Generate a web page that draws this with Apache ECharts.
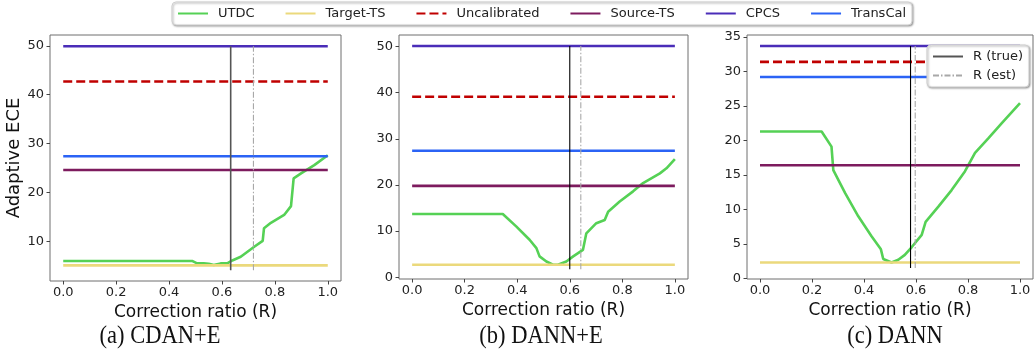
<!DOCTYPE html>
<html>
<head>
<meta charset="utf-8">
<script src="https://cdn.jsdelivr.net/npm/echarts@6/dist/echarts.min.js"></script>
<style>
html,body{margin:0;padding:0;background:#fff;}
#chart{width:1034px;height:352px;}
</style>
</head>
<body>
<div id="chart"></div>
<script>
// ---------------- data ----------------
const seriesNames = ['UTDC', 'Target-TS', 'Uncalibrated', 'Source-TS', 'CPCS', 'TransCal'];
const panelCaptions = ['(a) CDAN+E', '(b) DANN+E', '(c) DANN'];
const xTicks = [0.0, 0.2, 0.4, 0.6, 0.8, 1.0];
const yTicksA = [10, 20, 30, 40, 50];
const yTicksB = [0, 10, 20, 30, 40, 50];
const yTicksC = [0, 5, 10, 15, 20, 25, 30, 35];

// flat baselines per panel [a, b, c]
const targetTS     = [5.1, 2.7, 2.3];
const uncalibrated = [42.7, 39.1, 31.4];
const sourceTS     = [24.6, 19.8, 16.4];
const cpcs         = [49.9, 50.1, 33.7];
const transCal     = [27.4, 27.4, 29.2];

// correction ratio markers per panel
const rTrue = [0.633, 0.600, 0.579];
const rEst  = [0.719, 0.642, 0.597];
const vlineLow  = [4.1, 1.7, 1.5];
const vlineHigh = [49.9, 50.1, 33.7];

// UTDC curves [R, ECE]
const utdcA = [[0.0,6.0],[0.487,6.0],[0.506,5.5],[0.531,5.5],[0.55,5.4],[0.569,5.15],[0.595,5.5],[0.62,5.5],[0.639,6.1],[0.671,6.85],[0.722,8.9],[0.754,10.1],[0.759,12.7],[0.785,13.8],[0.835,15.4],[0.861,17.2],[0.871,22.9],[0.899,23.9],[0.949,25.6],[1.0,27.6]];
const utdcB = [[0.0,13.7],[0.345,13.7],[0.396,11.0],[0.447,8.1],[0.473,6.3],[0.485,4.5],[0.511,3.4],[0.536,2.7],[0.555,2.7],[0.587,3.4],[0.613,4.5],[0.65,5.9],[0.663,9.5],[0.701,11.7],[0.733,12.4],[0.746,14.2],[0.79,16.4],[0.841,18.6],[0.879,20.4],[0.943,22.5],[0.968,23.6],[1.0,25.6]];
const utdcC = [[0.0,21.3],[0.237,21.3],[0.275,19.1],[0.282,15.7],[0.327,12.4],[0.378,9.0],[0.429,6.1],[0.465,4.2],[0.474,2.8],[0.506,2.3],[0.532,2.7],[0.557,3.4],[0.583,4.5],[0.622,6.3],[0.637,8.2],[0.686,10.4],[0.737,12.8],[0.788,15.5],[0.827,18.2],[0.878,20.3],[0.93,22.5],[1.0,25.4]];
const utdcAll = [utdcA, utdcB, utdcC];

// ---------------- layout/style ----------------
const FONT = 'DejaVu Sans';
const colors = {
  'UTDC': '#55d155',
  'Target-TS': '#ebd97c',
  'Uncalibrated': '#c00000',
  'Source-TS': '#7d1b5e',
  'CPCS': '#4a2db8',
  'TransCal': '#2b63f5'
};
const grids = [
  {left: 50, top: 35, width: 291, height: 246},
  {left: 399, top: 35, width: 289, height: 244},
  {left: 747, top: 35, width: 286, height: 244}
];
const yRanges = [[1.9, 52.2], [-0.4, 52.5], [-0.1, 35.3]];
const yTickSets = [yTicksA, yTicksB, yTicksC];
const captionCenters = [160, 541, 895];

const legendCommon = {
  itemWidth: 30, itemHeight: 14,
  padding: [5, 6, 5, 5],
  borderColor: '#cfcfcf', borderWidth: 1, borderRadius: 4,
  backgroundColor: '#fff',
  shadowBlur: 2, shadowColor: 'rgba(0,0,0,0.35)', shadowOffsetX: 1, shadowOffsetY: 1,
  itemStyle: {opacity: 0},
  textStyle: {fontSize: 13, color: '#222', fontFamily: FONT, padding: [0, 0, 0, 5]},
  selectedMode: false,
  z: 50
};

const option = {
  animation: false,
  backgroundColor: '#fff',
  textStyle: {fontFamily: FONT},
  grid: grids.map(g => Object.assign({show: true, borderColor: '#6e6e6e', borderWidth: 1, backgroundColor: 'transparent'}, g)),
  xAxis: grids.map((g, i) => ({
    type: 'value', gridIndex: i, min: -0.05, max: 1.05,
    name: 'Correction ratio (R)', nameLocation: 'middle', nameGap: 20,
    nameTextStyle: {fontSize: 17, color: '#111', fontFamily: FONT, verticalAlign: 'top'},
    axisLine: {show: false, onZero: false},
    splitLine: {show: false},
    axisTick: {show: true, length: 3.5, customValues: xTicks, lineStyle: {color: '#444'}},
    axisLabel: {customValues: xTicks, formatter: v => v.toFixed(1), fontSize: 13, color: '#222', margin: 5, fontFamily: FONT}
  })),
  yAxis: grids.map((g, i) => ({
    type: 'value', gridIndex: i, min: yRanges[i][0], max: yRanges[i][1],
    name: i === 0 ? 'Adaptive ECE' : '', nameLocation: 'middle', nameGap: 18,
    nameTextStyle: {fontSize: 18, color: '#111', fontFamily: FONT},
    axisLine: {show: false, onZero: false},
    splitLine: {show: false},
    axisTick: {show: true, length: 3.5, customValues: yTickSets[i], lineStyle: {color: '#444'}},
    axisLabel: {customValues: yTickSets[i], fontSize: 13, color: '#222', margin: 6, fontFamily: FONT}
  })),
  legend: [
    Object.assign({}, legendCommon, {
      data: seriesNames,
      left: 172, top: 2,
      itemGap: 30
    }),
    Object.assign({}, legendCommon, {
      data: ['R (true)', 'R (est)'],
      orient: 'vertical',
      left: 927, top: 45,
      itemGap: 6
    })
  ],
  graphic: panelCaptions.map((t, i) => ({
    type: 'text', x: captionCenters[i], y: 336, scaleX: 0.9,
    style: {text: t, font: '25px "Liberation Serif"', fill: '#111', textAlign: 'center', textVerticalAlign: 'middle'}
  })),
  series: []
};

const flatSets = {'Target-TS': targetTS, 'Uncalibrated': uncalibrated, 'Source-TS': sourceTS, 'CPCS': cpcs, 'TransCal': transCal};

for (let i = 0; i < 3; i++) {
  option.series.push({
    name: 'UTDC', type: 'line', xAxisIndex: i, yAxisIndex: i,
    data: utdcAll[i], symbol: 'none', color: colors['UTDC'],
    lineStyle: {width: 2.6, color: colors['UTDC']}, z: 2
  });
  ['Target-TS', 'Uncalibrated', 'Source-TS', 'CPCS', 'TransCal'].forEach((n, k) => {
    const v = flatSets[n][i];
    option.series.push({
      name: n, type: 'line', xAxisIndex: i, yAxisIndex: i,
      data: [[0, v], [1, v]], symbol: 'none', color: colors[n],
      lineStyle: {width: 2.6, color: colors[n], type: n === 'Uncalibrated' ? [9, 4] : 'solid'}, z: 3 + k
    });
  });
  option.series.push({
    name: 'R (true)', type: 'line', xAxisIndex: i, yAxisIndex: i,
    data: [[rTrue[i], vlineLow[i]], [rTrue[i], vlineHigh[i]]], symbol: 'none', color: '#000',
    lineStyle: {width: i === 0 ? 1.6 : 1.1, color: i === 0 ? '#555' : '#000'}, z: 10
  });
  option.series.push({
    name: 'R (est)', type: 'line', xAxisIndex: i, yAxisIndex: i,
    data: [[rEst[i], vlineLow[i]], [rEst[i], vlineHigh[i]]], symbol: 'none', color: '#a8a8a8',
    lineStyle: {width: 1.1, color: '#a8a8a8', type: [6, 2, 1.5, 2]}, z: 10
  });
}

const chart = echarts.init(document.getElementById('chart'), null, {renderer: 'canvas'});
chart.setOption(option);
</script>
</body>
</html>
